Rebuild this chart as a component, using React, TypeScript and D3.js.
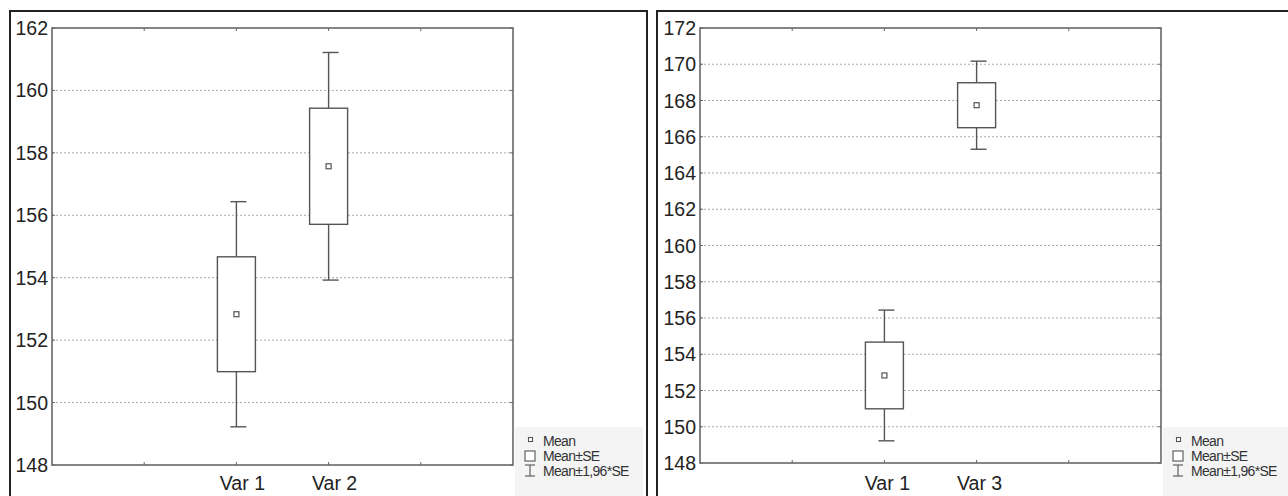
import React from "react";
import * as d3 from "d3";

// ---- data ----
const categoriesA = ["Var 1", "Var 2"];
const meansA = [152.83, 157.57];
const seA = [1.84, 1.86];
const yTicksA = [148, 150, 152, 154, 156, 158, 160, 162];

const categoriesB = ["Var 1", "Var 3"];
const meansB = [152.83, 167.74];
const seB = [1.84, 1.24];
const yTicksB = [148, 150, 152, 154, 156, 158, 160, 162, 164, 166, 168, 170, 172];

const xTickPositions = [1, 2, 3, 4];
const legendLabels = ["Mean", "Mean±SE", "Mean±1,96*SE"];

const FONT = "'Liberation Sans', Arial, sans-serif";

type PanelProps = {
  frameX: number;
  frameW: number;
  left: number;
  right: number;
  top: number;
  bottom: number;
  yTicks: number[];
  categories: string[];
  means: number[];
  se: number[];
  labelDx: number;
};

function Panel(p: PanelProps) {
  const y = d3
    .scaleLinear()
    .domain([d3.min(p.yTicks)!, d3.max(p.yTicks)!])
    .range([p.bottom, p.top]);
  const x = d3.scaleLinear().domain([0, 5]).range([p.left, p.right]);
  const boxHalf = 19;
  const capHalf = 8;
  const stroke = "#555";
  const lx = p.right + 14;
  const tx = p.right + 30;
  return (
    <g>
      <rect x={p.frameX} y={11} width={p.frameW} height={520} fill="#fff" stroke="#222" strokeWidth={2} />
      <rect x={p.right + 2} y={427} width={p.frameX + p.frameW - p.right - 6} height={100} fill="#f4f4f4" />
      {/* grid */}
      {p.yTicks.slice(1, -1).map((t) => (
        <line key={"g" + t} x1={p.left} x2={p.right} y1={y(t)} y2={y(t)} stroke="#aaa" strokeWidth={1} strokeDasharray="2,2" />
      ))}
      {/* frame of plot */}
      <rect x={p.left} y={p.top} width={p.right - p.left} height={p.bottom - p.top} fill="none" stroke="#5e5e5e" strokeWidth={1.5} />
      {/* y ticks */}
      {p.yTicks.map((t) => (
        <g key={"yt" + t}>
          <line x1={p.left} x2={p.left + 3} y1={y(t)} y2={y(t)} stroke="#666" />
          <line x1={p.right - 3} x2={p.right} y1={y(t)} y2={y(t)} stroke="#666" />
          <text x={p.left - 4} y={y(t)} dy="0.36em" textAnchor="end" fontFamily={FONT} fontSize={19.5} fill="#222">
            {t}
          </text>
        </g>
      ))}
      {/* x ticks */}
      {xTickPositions.map((t) => (
        <g key={"xt" + t}>
          <line x1={x(t)} x2={x(t)} y1={p.top} y2={p.top + 3} stroke="#666" />
          <line x1={x(t)} x2={x(t)} y1={p.bottom} y2={p.bottom - 3} stroke="#666" />
        </g>
      ))}
      {p.categories.map((c, i) => (
        <text key={"xl" + c} x={x(i + 2) + p.labelDx} y={490} textAnchor="middle" fontFamily={FONT} fontSize={19.5} fill="#222">
          {c}
        </text>
      ))}
      {/* boxes */}
      {p.categories.map((c, i) => {
        const cx = x(i + 2);
        const m = p.means[i];
        const s = p.se[i];
        const w = 1.96 * s;
        return (
          <g key={"b" + c} stroke={stroke} strokeWidth={1.4} fill="none">
            <line x1={cx} x2={cx} y1={y(m + w)} y2={y(m + s)} />
            <line x1={cx} x2={cx} y1={y(m - s)} y2={y(m - w)} />
            <line x1={cx - capHalf + 2} x2={cx + capHalf + 2} y1={y(m + w)} y2={y(m + w)} />
            <line x1={cx - capHalf + 2} x2={cx + capHalf + 2} y1={y(m - w)} y2={y(m - w)} />
            <rect x={cx - boxHalf} y={y(m + s)} width={2 * boxHalf} height={y(m - s) - y(m + s)} fill="#fff" />
            <rect x={cx - 2.5} y={y(m) - 2.5} width={5} height={5} fill="#fff" strokeWidth={1.2} />
          </g>
        );
      })}
      {/* legend */}
      <g stroke={stroke} strokeWidth={1.1} fill="none">
        <rect x={lx + 1.5} y={437.5} width={4} height={4} fill="#fff" />
        <rect x={lx - 2} y={451} width={10} height={10} fill="#fff" />
        <line x1={lx + 3} x2={lx + 3} y1={465} y2={476} />
        <line x1={lx - 2} x2={lx + 8} y1={465} y2={465} />
        <line x1={lx - 2} x2={lx + 8} y1={476} y2={476} />
      </g>
      {legendLabels.map((l, i) => (
        <text key={"lg" + l} x={tx} y={445.5 + i * 15} fontFamily={FONT} fontSize={14} fill="#333" letterSpacing={-0.7}>
          {l}
        </text>
      ))}
    </g>
  );
}

export default function App() {
  return (
    <svg width={1288} height={496} style={{ position: "absolute", left: 0, top: 0 }}>
      <rect x={0} y={0} width={1288} height={496} fill="#fff" />
      <Panel frameX={10} frameW={637} left={52} right={513} top={28} bottom={465} yTicks={yTicksA} categories={categoriesA} means={meansA} se={seA} labelDx={6} />
      <Panel frameX={657} frameW={700} left={700} right={1161} top={28} bottom={463} yTicks={yTicksB} categories={categoriesB} means={meansB} se={seB} labelDx={3} />
    </svg>
  );
}
